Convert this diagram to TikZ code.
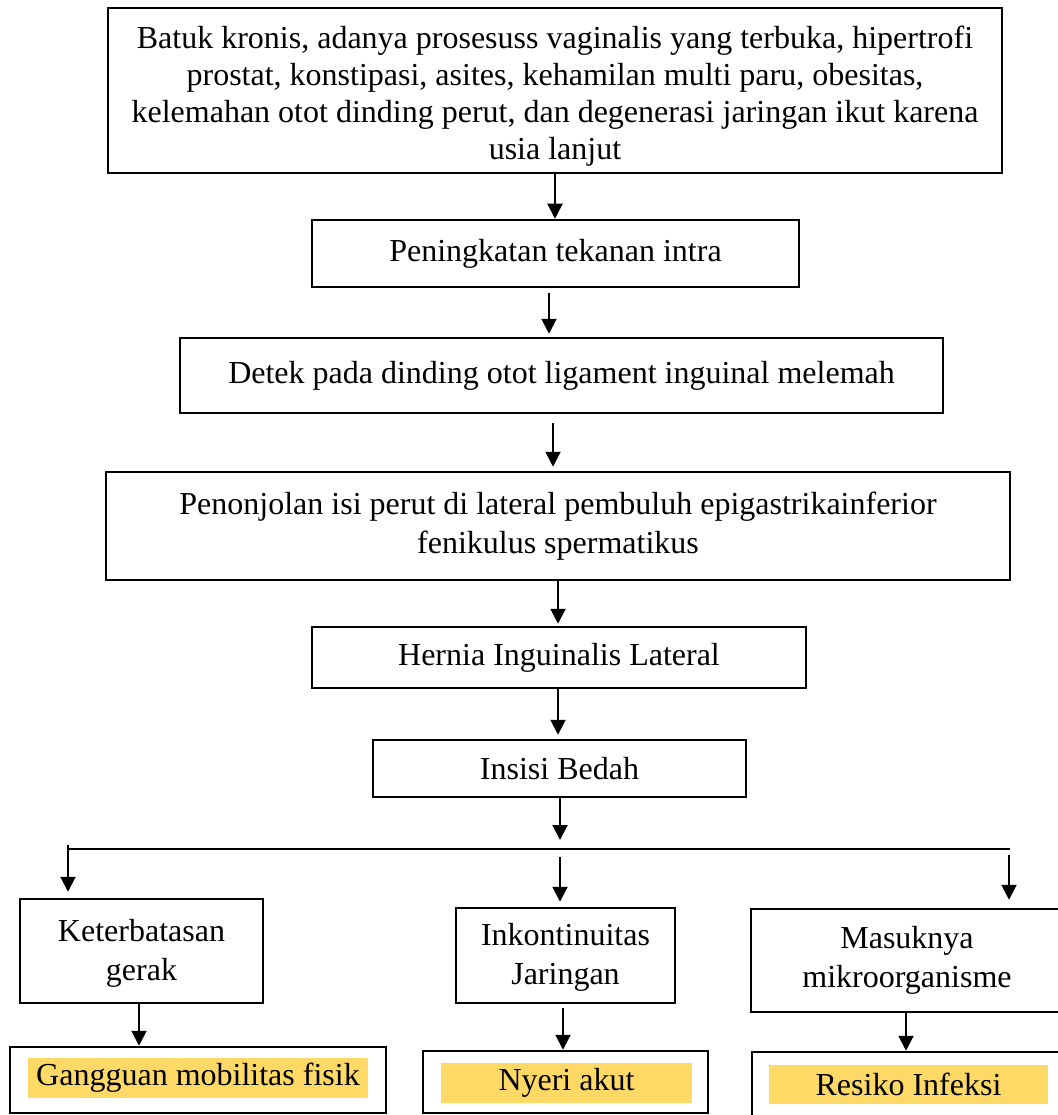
\documentclass[tikz,border=0pt]{standalone}
\usepackage{fontspec}
\setmainfont{Liberation Serif}
\usetikzlibrary{arrows.meta}

\definecolor{hlgold}{HTML}{FFD966}

\tikzset{
	box/.style={draw=black, line width=2.5pt, align=center, inner sep=0pt,
		font=\fontsize{32}{39}\selectfont},
	hl/.style={fill=hlgold, inner sep=0pt, font=\fontsize{32}{39}\selectfont},
	arr/.style={-{Triangle[width=15pt,length=15pt]}, line width=2pt},
	branch/.style={line width=1.3pt}
}

\begin{document}
\begin{tikzpicture}[x=1pt, y=-1pt]
\useasboundingbox (0,0) rectangle (1057,1115);

% main chain
\node[box, minimum width=894pt, minimum height=165pt, font=\fontsize{32}{36.8}\selectfont] (cause) at (555,90.5)
	{\rule{0pt}{34pt}Batuk kronis, adanya prosesuss vaginalis yang terbuka, hipertrofi\\
	 prostat, konstipasi, asites, kehamilan multi paru, obesitas,\\
	 kelemahan otot dinding perut, dan degenerasi jaringan ikut karena\\
	 usia lanjut};
\node[box, minimum width=487pt, minimum height=67pt] (intra) at (555.5,253.5) {Peningkatan tekanan intra};
\node[box, minimum width=763pt, minimum height=75pt] (detek) at (561.5,375.5) {Detek pada dinding otot ligament inguinal melemah};
\node[box, minimum width=904pt, minimum height=108pt] (penon) at (558,526)
	{Penonjolan isi perut di lateral pembuluh epigastrikainferior\\ fenikulus spermatikus};
\node[box, minimum width=494pt, minimum height=61pt] (hernia) at (559,657.5) {Hernia Inguinalis Lateral};
\node[box, minimum width=373pt, minimum height=57pt] (insisi) at (559.5,768.5) {Insisi Bedah};

\draw[arr] (cause.south) -- ([xshift=-0.5pt]intra.north);
\draw[arr, shorten <=5pt, shorten >=3pt] ([xshift=-6.5pt]intra.south) -- ([xshift=-12.5pt]detek.north);
\draw[arr, shorten <=9pt, shorten >=4pt] ([xshift=-8.5pt]detek.south) -- ([xshift=-5pt]penon.north);
\draw[arr, shorten >=2pt] (penon.south) -- ([xshift=-1pt]hernia.north);
\draw[arr, shorten >=4pt] ([xshift=-1pt]hernia.south) -- ([xshift=-1.5pt]insisi.north);

% branching
\coordinate (brL) at (68,849);
\coordinate (brM) at (560,849);
\coordinate (brR) at (1010,849);
\draw[branch] (brL) -- (brR);
\draw[arr, shorten >=9pt] ([xshift=0.5pt]insisi.south) -- (brM);

% effects
\node[box, minimum width=243pt, minimum height=104pt] (gerak) at (141.5,951) {\rule{0pt}{26pt}Keterbatasan\\ gerak};
\node[box, minimum width=219pt, minimum height=95pt] (jaringan) at (565.5,955.5) {\rule{0pt}{26pt}Inkontinuitas\\ Jaringan};
\node[box, minimum width=312pt, minimum height=103pt] (mikro) at (907,960.5) {Masuknya\\ mikroorganisme};

\draw[arr, shorten >=6pt] ([yshift=4pt]brL) -- ([xshift=-73.5pt]gerak.north);
\draw[arr, shorten <=8pt, shorten >=5pt] (brM) -- ([xshift=-5.5pt]jaringan.north);
\draw[arr, shorten <=6pt, shorten >=8pt] ([xshift=-1pt]brR) -- ([xshift=102pt]mikro.north);

% diagnoses
\node[box, minimum width=376pt, minimum height=66pt] (mobil) at (198,1080) {};
\node[hl, minimum width=340pt, minimum height=40pt] (mobiltxt) at (198,1078) {Gangguan mobilitas fisik};
\node[box, minimum width=285pt, minimum height=62pt] (nyeri) at (565.5,1082) {};
\node[hl, minimum width=251pt, minimum height=40pt] (nyeritxt) at (566.5,1083) {Nyeri akut};
\node[box, minimum width=311pt, minimum height=66pt] (infeksi) at (907.5,1085) {};
\node[hl, minimum width=279pt, minimum height=39pt] (infeksitxt) at (908.5,1084.5) {Resiko Infeksi};

\draw[arr] ([xshift=-2.5pt]gerak.south) -- ([xshift=-59pt]mobil.north);
\draw[arr, shorten <=4pt] ([xshift=-2.5pt]jaringan.south) -- ([xshift=-2.5pt]nyeri.north);
\draw[arr] ([xshift=-1pt]mikro.south) -- ([xshift=-1.5pt]infeksi.north);

\end{tikzpicture}
\end{document}
